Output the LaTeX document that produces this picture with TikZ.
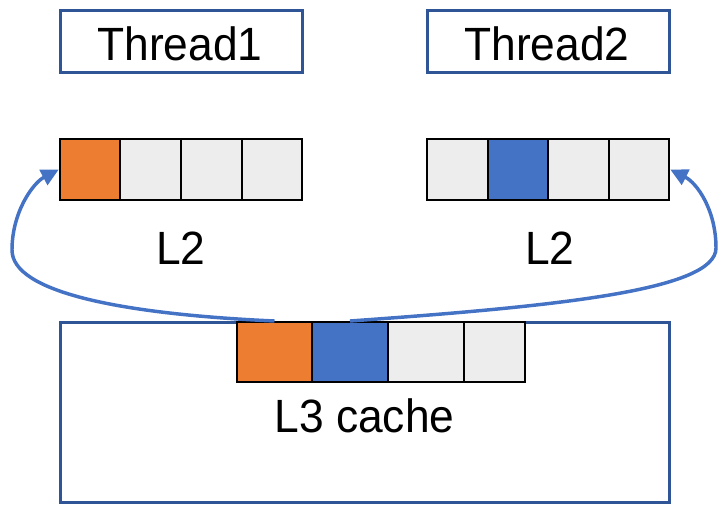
\documentclass[tikz,border=0pt]{standalone}
\usepackage{fontspec}
\setmainfont{Liberation Sans}[FakeStretch=0.95]
\usetikzlibrary{arrows.meta}
\definecolor{cOrange}{HTML}{ED7D31}
\definecolor{cBlue}{HTML}{4472C4}
\definecolor{cGray}{HTML}{EDEDED}
\definecolor{cFrame}{HTML}{2F5597}
\begin{document}
\begin{tikzpicture}[x=0.75pt,y=-0.75pt,
  frame/.style={draw=cFrame,line width=2.25pt,fill=white,inner sep=0pt},
  cell/.style={draw=black,line width=1.5pt,fill=cGray,inner sep=0pt,
    minimum height=45.75pt},
  cellS/.style={cell,minimum width=45.4pt},
  label/.style={anchor=base,inner sep=0pt,font=\fontsize{35}{42}\selectfont},
  fetch/.style={draw=cBlue,line width=2.6pt,
    -{Triangle[length=13pt,width=12.5pt]}}]
\useasboundingbox (0,0) rectangle (718,504);

% thread boxes
\node[frame,minimum width=181.5pt,minimum height=46.5pt] (t1) at (181,41) {};
\node[frame,minimum width=181.5pt,minimum height=46.5pt] (t2) at (548,41) {};
\node[label] (t1txt) at (180,60) {Thread1};
\node[label] (t2txt) at (547,60) {Thread2};

% L2 of thread 1
\node[cellS,fill=cOrange] (a1) at (90,169.5) {};
\node[cellS] (a2) at (150.5,169.5) {};
\node[cellS] (a3) at (211.5,169.5) {};
\node[cellS] (a4) at (272,169.5) {};
\node[label] (l2a) at (181,264) {L2};

% L2 of thread 2
\node[cellS] (b1) at (457.5,169.5) {};
\node[cellS,fill=cBlue] (b2) at (518,169.5) {};
\node[cellS] (b3) at (578.5,169.5) {};
\node[cellS] (b4) at (639,169.5) {};
\node[label] (l2b) at (550,264) {L2};

% shared L3
\node[frame,minimum width=456.75pt,minimum height=135pt] (l3) at (364.5,412) {};
\node[cell,minimum width=56.6pt,minimum height=45pt,fill=cOrange] (c1) at (274.5,352) {};
\node[cell,minimum width=57pt,minimum height=45pt,fill=cBlue] (c2) at (350,352) {};
\node[cell,minimum width=57pt,minimum height=45pt] (c3) at (426,352) {};
\node[cell,minimum width=45.75pt,minimum height=45pt] (c4) at (494.5,352) {};
\node[label] (l3txt) at (364.5,432) {L3 cache};

% lines copied up into each L2
\draw[fetch] (c1.north) .. controls (120,314) and (12,292) .. (12,250)
  .. controls (12,212) and (33,183) .. (a1.west);
\draw[fetch] (c2.north) .. controls (560,306) and (716,290) .. (716,248)
  .. controls (716,210) and (697,183) .. (b4.east);
\end{tikzpicture}
\end{document}
